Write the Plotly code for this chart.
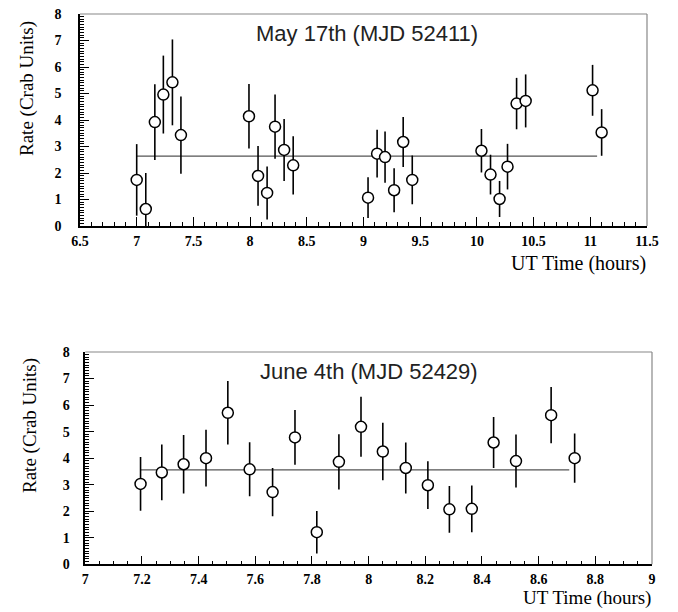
import plotly.graph_objects as go

W, H = 678, 612

# ---- Data: May 17th (MJD 52411) ----
may_time = [7.00, 7.08, 7.16, 7.235, 7.315, 7.39, 7.99, 8.07, 8.15, 8.22, 8.30, 8.38,
            9.04, 9.12, 9.19, 9.27, 9.35, 9.43, 10.04, 10.12, 10.20, 10.27, 10.35, 10.43,
            11.02, 11.10]
may_rate = [1.74, 0.64, 3.92, 4.96, 5.42, 3.43, 4.14, 1.89, 1.25, 3.75, 2.87, 2.29,
            1.07, 2.73, 2.60, 1.35, 3.17, 1.74, 2.84, 1.94, 1.02, 2.24, 4.62, 4.72,
            5.12, 3.53]
may_err = [1.35, 1.36, 1.43, 1.47, 1.62, 1.46, 1.22, 1.13, 1.00, 1.21, 1.17, 1.10,
           0.77, 0.90, 0.97, 0.83, 0.94, 0.92, 0.82, 0.75, 0.68, 0.86, 0.97, 1.00,
           0.96, 0.88]
may_fit = 2.64
may_fit_range = [7.0, 11.06]

# ---- Data: June 4th (MJD 52429) ----
jun_time = [7.195, 7.27, 7.347, 7.426, 7.503, 7.58, 7.661, 7.74, 7.817, 7.895, 7.973,
            8.05, 8.131, 8.209, 8.285, 8.364, 8.441, 8.52, 8.644, 8.727]
jun_rate = [3.03, 3.46, 3.77, 4.00, 5.71, 3.58, 2.72, 4.78, 1.21, 3.86, 5.18,
            4.25, 3.63, 2.98, 2.07, 2.09, 4.59, 3.89, 5.62, 4.00]
jun_err = [1.01, 1.05, 1.10, 1.07, 1.20, 1.02, 0.91, 1.03, 0.80, 1.04, 1.13,
           1.08, 0.96, 0.90, 0.88, 0.88, 0.96, 1.00, 1.06, 0.93]
jun_fit = 3.56
jun_fit_range = [7.195, 8.708]

title_may = "May 17th (MJD 52411)"
title_jun = "June 4th (MJD 52429)"
ytitle = "Rate (Crab Units)"
xtitle = "UT Time (hours)"

# ---- Layout geometry (pixels) ----
top_l, top_r, top_t, top_b = 80, 647, 14, 226
bot_l, bot_r, bot_t, bot_b = 85.3, 652, 352, 564.3


def px(x):
    return x / W


def py(y):
    return 1 - y / H


serif = "Liberation Serif, Times New Roman, serif"
sans = "Liberation Sans, Arial, sans-serif"

fig = go.Figure()


def add_panel(t, r, e, fit, fr, xa, ya):
    fig.add_trace(go.Scatter(
        x=fr, y=[fit, fit], mode="lines", xaxis=xa, yaxis=ya,
        line=dict(color="#555555", width=1.2), showlegend=False, hoverinfo="skip"))
    fig.add_trace(go.Scatter(
        x=t, y=r, mode="markers", xaxis=xa, yaxis=ya,
        error_y=dict(type="data", array=e, visible=True, thickness=1.6, width=0, color="black"),
        marker=dict(symbol="circle", size=11, color="white", line=dict(color="black", width=1.5)),
        showlegend=False))


add_panel(may_time, may_rate, may_err, may_fit, may_fit_range, "x", "y")
add_panel(jun_time, jun_rate, jun_err, jun_fit, jun_fit_range, "x2", "y2")

tickfont = dict(family=serif, size=14, color="black", weight="bold")

common_x = dict(showgrid=False, zeroline=False, showline=True, linecolor="black", linewidth=1.5,
                automargin=False,
                ticks="inside", ticklen=9, tickwidth=1.2, tickcolor="black", tickfont=tickfont)
common_y = dict(showgrid=False, zeroline=False, showline=True, linecolor="black", linewidth=1.5,
                automargin=False,
                ticks="inside", ticklen=9, tickwidth=1.2, tickcolor="black", tickfont=tickfont,
                range=[0, 8], dtick=1, tick0=0,
                minor=dict(dtick=0.1, ticks="inside", ticklen=4, tickcolor="black", tickwidth=1))

fig.update_layout(
    width=W, height=H,
    margin=dict(l=0, r=0, t=0, b=0),
    paper_bgcolor="white", plot_bgcolor="white",
    xaxis=dict(common_x, domain=[px(top_l), px(top_r)], range=[6.5, 11.5], dtick=0.5, tick0=6.5,
               anchor="y", ticklabelstandoff=1,
               minor=dict(dtick=0.1, ticks="inside", ticklen=4, tickcolor="black", tickwidth=1)),
    yaxis=dict(common_y, domain=[py(top_b), py(top_t)], anchor="x", ticklabelstandoff=14),
    xaxis2=dict(common_x, domain=[px(bot_l), px(bot_r)], range=[7, 9], dtick=0.2, tick0=7,
                anchor="y2", ticklabelstandoff=1,
                minor=dict(dtick=0.05, ticks="inside", ticklen=4, tickcolor="black", tickwidth=1)),
    yaxis2=dict(common_y, domain=[py(bot_b), py(bot_t)], anchor="x2", ticklabelstandoff=11),
)

# top/right frame lines (grey)
shapes = []
for (l, r, t, b) in [(top_l, top_r, top_t, top_b), (bot_l, bot_r, bot_t, bot_b)]:
    shapes.append(dict(type="line", xref="paper", yref="paper", x0=px(l), x1=px(r), y0=py(t), y1=py(t),
                       line=dict(color="#888888", width=1.2)))
    shapes.append(dict(type="line", xref="paper", yref="paper", x0=px(r), x1=px(r), y0=py(t), y1=py(b),
                       line=dict(color="#888888", width=1.2)))
fig.update_layout(shapes=shapes)

annotations = [
    dict(text=title_may, x=px(367), y=py(33), xref="paper", yref="paper", showarrow=False,
         font=dict(family=sans, size=22, color="#222222"), xanchor="center", yanchor="middle"),
    dict(text=title_jun, x=px(369), y=py(372), xref="paper", yref="paper", showarrow=False,
         font=dict(family=sans, size=22, color="#222222"), xanchor="center", yanchor="middle"),
    dict(text=ytitle, x=px(27), y=py(89), xref="paper", yref="paper", showarrow=False, textangle=-90,
         font=dict(family=serif, size=19, color="black"), xanchor="center", yanchor="middle"),
    dict(text=ytitle, x=px(30), y=py(426), xref="paper", yref="paper", showarrow=False, textangle=-90,
         font=dict(family=serif, size=19, color="black"), xanchor="center", yanchor="middle"),
    dict(text=xtitle, x=px(648), y=py(263), xref="paper", yref="paper", showarrow=False,
         font=dict(family=serif, size=20, color="black"), xanchor="right", yanchor="middle"),
    dict(text=xtitle, x=px(653), y=py(598), xref="paper", yref="paper", showarrow=False,
         font=dict(family=serif, size=19, color="black"), xanchor="right", yanchor="middle"),
]
fig.update_layout(annotations=annotations)

fig.write_html("out.html", config={"displayModeBar": False},
               post_script="document.body.style.margin='0px';")
